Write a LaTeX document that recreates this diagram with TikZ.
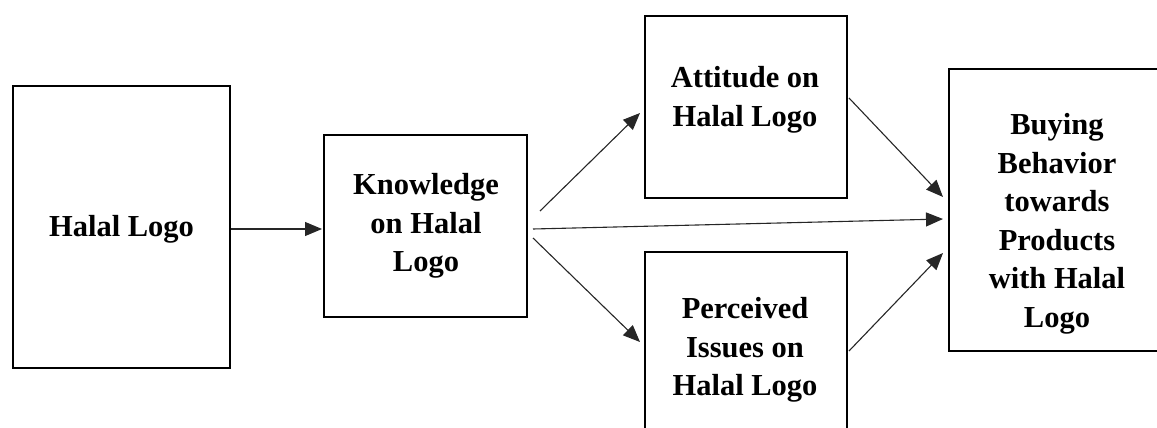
\documentclass[tikz,border=0pt]{standalone}
\usepackage{fontspec}
\setmainfont{Liberation Serif}
\usetikzlibrary{arrows.meta,calc}

\tikzset{
  box/.style={draw=black, line width=2.4pt, rectangle, inner sep=0pt, outer sep=0pt},
  boxtext/.style={font=\bfseries\fontsize{30.5}{38.5}\selectfont, align=center, inner sep=0pt},
  arr/.style={draw=black!85, line width=1.1pt, -{Triangle[length=17pt,width=14pt]}},
}

\begin{document}
\begin{tikzpicture}[x=1pt, y=-1pt]
  \useasboundingbox (0,0) rectangle (1157,428);
  \clip (0,0) rectangle (1157,428);

  % boxes
  \node[box, minimum width=217pt, minimum height=282pt] (logo) at (121.5,227) {};
  \node[box, minimum width=203pt, minimum height=182pt] (know) at (425.5,226) {};
  \node[box, minimum width=202pt, minimum height=182pt] (att)  at (746,107) {};
  \node[box, minimum width=202pt, minimum height=182pt] (perc) at (746,343) {};
  \node[box, minimum width=216pt, minimum height=282pt] (buy)  at (1057,210) {};

  % box texts
  \node[boxtext] (logoT) at (121.5,229) {Halal Logo};
  \node[boxtext] (knowT) at (426,226) {Knowledge\\on Halal\\Logo};
  \node[boxtext] (attT)  at (745,100) {Attitude on\\Halal Logo};
  \node[boxtext] (percT) at (745,350) {Perceived\\Issues on\\Halal Logo};
  \node[boxtext] (buyT)  at (1057,224) {Buying\\Behavior\\towards\\Products\\with Halal\\Logo};

  % connectors
  \draw[arr] ($(logo.east)+(1,2)$) -- ($(know.west)+(-2,3)$);
  \draw[arr] ($(know.east)+(13,-15)$) -- ($(att.west)+(-5,6)$);
  \draw[arr] ($(know.east)+(6,3)$) -- ($(buy.west)+(-6,9)$);
  \draw[arr] ($(know.east)+(6,12)$) -- ($(perc.west)+(-5,-1)$);
  \draw[arr] ($(att.east)+(2,-9)$) -- ($(buy.west)+(-6,-13)$);
  \draw[arr] ($(perc.east)+(2,8)$) -- ($(buy.west)+(-6,43)$);
\end{tikzpicture}
\end{document}
